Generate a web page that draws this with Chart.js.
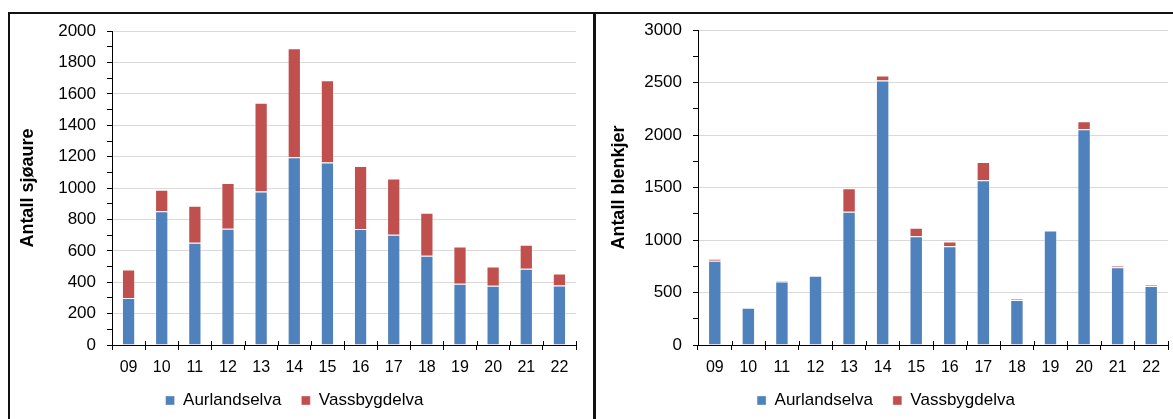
<!DOCTYPE html>
<html lang="no">
<head>
    <meta charset="UTF-8">
    <title>Sjøaure og blenkjer</title>
    <script src="https://cdn.jsdelivr.net/npm/chart.js"></script>
    <style>
        body { margin: 0; background: #fff; width: 1173px; height: 419px; overflow: hidden; position: relative; }
        .box { position: absolute; top: 12px; height: 460px; border: 2px solid #111; box-sizing: border-box; }
        canvas { position: absolute; }
    </style>
</head>
<body>
    <div class="box" style="left:8px; width:587px;"></div>
    <div class="box" style="left:594px; width:600px;"></div>
    <canvas id="chart1" width="582" height="409" style="left:10px; top:10px;"></canvas>
    <canvas id="chart2" width="576" height="410" style="left:597px; top:9px;"></canvas>
    <script>
        const years = ["09", "10", "11", "12", "13", "14", "15", "16", "17", "18", "19", "20", "21", "22"];

        // Antall sjøaure
        const sjoaureAurland = [300, 852, 652, 741, 978, 1197, 1163, 739, 703, 569, 390, 377, 486, 379];
        const sjoaureVassbygd = [181, 138, 236, 292, 566, 694, 524, 402, 358, 274, 238, 123, 153, 77];

        // Antall blenkjer
        const blenkjerAurland = [802, 356, 605, 659, 1270, 2521, 1037, 942, 1569, 430, 1092, 2056, 741, 563];
        const blenkjerVassbygd = [19, 0, 10, 0, 223, 48, 80, 45, 175, 9, 0, 77, 14, 8];

        const FONT = "'Liberation Sans', Arial, sans-serif";
        const BLUE = "#4F81BD";
        const RED = "#C0504D";

        // kryssande tick-merke på x-aksen (Excel-stil)
        const crossTicks = {
            id: "crossTicks",
            afterDraw(chart) {
                const x = chart.scales.x;
                const ctx = chart.ctx;
                const n = x.ticks.length;
                ctx.save();
                ctx.strokeStyle = "#000";
                ctx.lineWidth = 1;
                for (let i = 0; i <= n; i++) {
                    const px = Math.round(x.left + i * x.width / n) + 0.5;
                    ctx.beginPath();
                    ctx.moveTo(px, x.top - 4);
                    ctx.lineTo(px, x.top);
                    ctx.stroke();
                }
                ctx.restore();
            }
        };

        function createChart(id, title, aurland, vassbygd, max, step, labelStep, pad, yWidth) {
            const ctx = document.getElementById(id).getContext("2d");
            return new Chart(ctx, {
                type: "bar",
                data: {
                    labels: years,
                    datasets: [
                        { label: "Aurlandselva", data: aurland, backgroundColor: BLUE, borderColor: "rgba(255,255,255,0.35)", borderWidth: 1 },
                        { label: "Vassbygdelva", data: vassbygd, backgroundColor: RED, borderColor: "rgba(255,255,255,0.35)", borderWidth: 1 }
                    ]
                },
                options: {
                    responsive: false,
                    animation: false,
                    barPercentage: 0.4,
                    categoryPercentage: 1.0,
                    layout: { padding: pad },
                    plugins: {
                        tooltip: { enabled: false },
                        legend: {
                            position: "bottom",
                            labels: {
                                boxWidth: 9,
                                boxHeight: 9,
                                padding: 20,
                                color: "#000",
                                font: { family: FONT, size: 17 }
                            }
                        }
                    },
                    scales: {
                        x: {
                            stacked: true,
                            grid: { offset: true, color: "rgba(0,0,0,0)", tickColor: "#000", tickLength: 5 },
                            border: { color: "#000", width: 1 },
                            ticks: { color: "#000", font: { family: FONT, size: 16 }, padding: 8, maxRotation: 0 },
                            afterFit: (s) => { s.height = 27; }
                        },
                        y: {
                            stacked: true,
                            min: 0,
                            max: max,
                            grid: {
                                color: (c) => c.tick && c.tick.value % labelStep === 0 ? "#d9d9d9" : "rgba(0,0,0,0)",
                                tickColor: "#000",
                                tickLength: 5
                            },
                            border: { color: "#000", width: 1 },
                            ticks: {
                                stepSize: step,
                                autoSkip: false,
                                color: "#000",
                                padding: 11,
                                font: { family: FONT, size: 17 },
                                callback: (v) => v % labelStep === 0 ? v : ""
                            },
                            title: {
                                display: true,
                                text: title,
                                color: "#000",
                                font: { family: FONT, size: 18, weight: "bold" },
                                padding: { top: 4, bottom: 4 }
                            },
                            afterFit: (s) => { s.width = yWidth; }
                        }
                    }
                },
                plugins: [crossTicks]
            });
        }

        createChart("chart1", "Antall sjøaure", sjoaureAurland, sjoaureVassbygd, 2000, 100, 200,
            { left: 3, right: 16, top: 10, bottom: 0 }, 99);
        createChart("chart2", "Antall blenkjer", blenkjerAurland, blenkjerVassbygd, 3000, 250, 500,
            { left: 7, right: 5, top: 7, bottom: 0 }, 94);
    </script>
</body>
</html>
